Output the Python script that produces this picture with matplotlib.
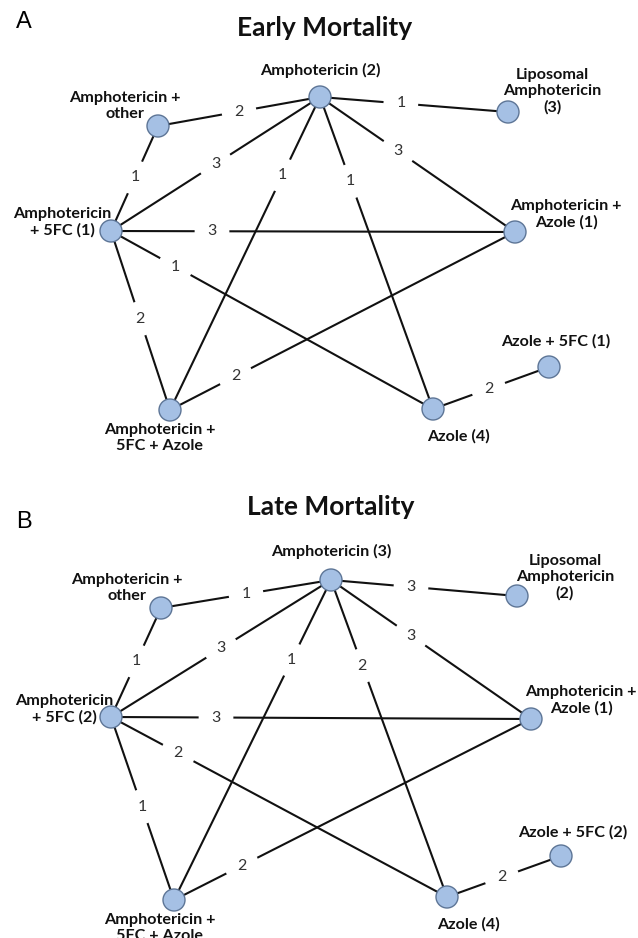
"""Network plots of treatment comparisons for early and late mortality."""

import matplotlib

matplotlib.use("Agg")
import matplotlib.pyplot as plt
from matplotlib.patches import Ellipse

# treatments (nodes)
nodes = ["amph", "other", "lipo", "5fc", "amph_azole", "5fc_azole", "azole", "azole_5fc"]

early_labels = {
    "amph": "Amphotericin (2)",
    "other": "Amphotericin +\nother",
    "lipo": "Liposomal\nAmphotericin\n(3)",
    "5fc": "Amphotericin\n+ 5FC (1)",
    "amph_azole": "Amphotericin +\nAzole (1)",
    "5fc_azole": "Amphotericin +\n5FC + Azole",
    "azole": "Azole (4)",
    "azole_5fc": "Azole + 5FC (1)",
}
late_labels = {
    "amph": "Amphotericin (3)",
    "other": "Amphotericin +\nother",
    "lipo": "Liposomal\nAmphotericin\n(2)",
    "5fc": "Amphotericin\n+ 5FC (2)",
    "amph_azole": "Amphotericin +\nAzole (1)",
    "5fc_azole": "Amphotericin +\n5FC + Azole",
    "azole": "Azole (4)",
    "azole_5fc": "Azole + 5FC (2)",
}

# direct comparisons (edges) and number of studies
edges = [
    ("amph", "other"),
    ("amph", "lipo"),
    ("amph", "5fc"),
    ("amph", "amph_azole"),
    ("amph", "5fc_azole"),
    ("amph", "azole"),
    ("other", "5fc"),
    ("5fc", "amph_azole"),
    ("5fc", "azole"),
    ("5fc", "5fc_azole"),
    ("5fc_azole", "amph_azole"),
    ("azole", "azole_5fc"),
]
early_counts = [2, 1, 3, 3, 1, 1, 1, 3, 1, 2, 2, 2]
late_counts = [1, 3, 3, 3, 1, 2, 1, 3, 2, 1, 2, 2]

# ---- layout (figure pixels) ----
W, H = 638, 938
label_frac = [0.5, 0.43, 0.5, 0.4, 0.25, 0.27, 0.49, 0.25, 0.2, 0.49, 0.19, 0.48]

panels = [
    dict(
        letter="A", letter_xy=(24, 22), title="Early Mortality", title_xy=(325, 28),
        labels=early_labels, counts=early_counts,
        pos={"amph": (320, 97), "other": (158, 126), "lipo": (508, 112), "5fc": (111, 231),
             "amph_azole": (515, 232), "5fc_azole": (170, 410), "azole": (433, 409),
             "azole_5fc": (549, 367)},
        text_xy={"amph": (320, 70), "other": (125, 106), "lipo": (552, 91), "5fc": (62, 222),
                 "amph_azole": (566, 214), "5fc_azole": (160, 438), "azole": (458, 436),
                 "azole_5fc": (556, 341)},
    ),
    dict(
        letter="B", letter_xy=(24, 522), title="Late Mortality", title_xy=(331, 507),
        labels=late_labels, counts=late_counts,
        pos={"amph": (331, 580), "other": (161, 608), "lipo": (517, 596), "5fc": (111, 717),
             "amph_azole": (531, 719), "5fc_azole": (174, 900), "azole": (447, 897),
             "azole_5fc": (561, 856)},
        text_xy={"amph": (331, 551), "other": (127, 588), "lipo": (565, 577), "5fc": (64, 709),
                 "amph_azole": (581, 700), "5fc_azole": (160, 928), "azole": (468, 924),
                 "azole_5fc": (573, 832)},
    ),
]

fig = plt.figure(figsize=(W / 100, H / 100), dpi=100)
ax = fig.add_axes([0, 0, 1, 1])
ax.set_xlim(0, W)
ax.set_ylim(H, 0)
ax.axis("off")

for p in panels:
    pos = p["pos"]
    ax.text(*p["letter_xy"], p["letter"], fontsize=17, family="Liberation Sans",
            ha="center", va="center")
    ax.text(*p["title_xy"], p["title"], fontsize=19, family="Lato", weight="bold",
            ha="center", va="center", color="#111111")

    for (a, b), n, f in zip(edges, p["counts"], label_frac):
        (x1, y1), (x2, y2) = pos[a], pos[b]
        ax.plot([x1, x2], [y1, y2], color="#111111", lw=1.5, zorder=1)
        ax.text(x1 + f * (x2 - x1), y1 + f * (y2 - y1), str(n), fontsize=11.5, family="Lato",
                color="#333333", ha="center", va="center", zorder=2,
                bbox=dict(boxstyle="circle,pad=0.65", fc="white", ec="none"))

    for k in nodes:
        ax.add_patch(Ellipse(pos[k], 22, 22, fc="#a5c0e4", ec="#5d7596", lw=1.0, zorder=3))
        ax.text(*p["text_xy"][k], p["labels"][k], fontsize=11.6, family="Lato", weight="bold",
                ha="center", va="center", linespacing=1.2, color="#111111", zorder=4)

fig.savefig("out.png", dpi=100)
